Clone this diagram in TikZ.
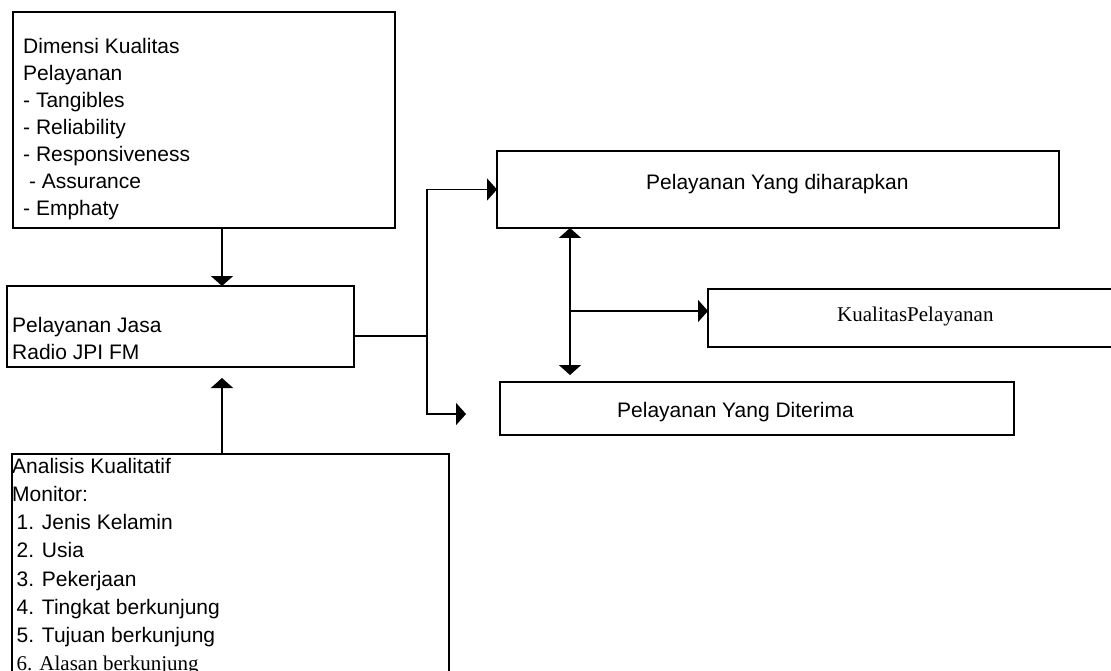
\documentclass[tikz,border=0pt]{standalone}
\usepackage{fontspec}
\newfontfamily\arialfont{Liberation Sans}
\newfontfamily\timesfont{Liberation Serif}
\usetikzlibrary{arrows.meta}

\begin{document}
\begin{tikzpicture}[x=1pt, y=-1pt,
    ujung/.tip={Triangle[length=10pt,width=22pt]},
    kotak/.style={draw, line width=2.2pt, inner sep=0pt, outer sep=0pt, anchor=north west},
    teks/.style={inner sep=0pt, align=left, font=\arialfont\fontsize{21}{27}\selectfont},
    panah/.style={line width=1.8pt, -ujung},
    panahdua/.style={line width=1.8pt, ujung-ujung}]
\useasboundingbox (0,0) rectangle (1111,671);
\clip (0,0) rectangle (1111,671);

% kotak kiri
\node[kotak, minimum width=382pt, minimum height=216pt] (dimensi) at (13,12) {};
\node[teks, anchor=north west] (dimensi-t) at (23,38) {Dimensi Kualitas\\Pelayanan\\- Tangibles\\- Reliability\\- Responsiveness\\\ - Assurance\\- Emphaty};

\node[kotak, minimum width=347pt, minimum height=81pt] (jasa) at (7,286) {};
\node[teks, anchor=north west] (jasa-t) at (12,317) {Pelayanan Jasa\\Radio JPI FM};

\node[kotak, minimum width=437pt, minimum height=260pt] (analisis) at (12,454) {};
\node[teks, anchor=north west, font=\arialfont\fontsize{21}{28.15}\selectfont] (analisis-t) at (12,458)
  {Analisis Kualitatif\\Monitor:\\
   \hspace{4.5pt}1. Jenis Kelamin\\\hspace{4.5pt}2. Usia\\\hspace{4.5pt}3. Pekerjaan\\
   \hspace{4.5pt}4. Tingkat berkunjung\\\hspace{4.5pt}5. Tujuan berkunjung\\
   \hspace{4.5pt}{\timesfont 6. Alasan berkunjung}};

% kotak kanan
\node[kotak, minimum width=562pt, minimum height=77pt] (harap) at (497,151) {};
\node[teks, anchor=base west] (harap-t) at (646,190) {Pelayanan Yang diharapkan};

\node[kotak, minimum width=450pt, minimum height=58pt] (kualitas) at (708,289) {};
\node[teks, anchor=base west, font=\timesfont\fontsize{21}{27}\selectfont] (kualitas-t) at (837,321) {KualitasPelayanan};

\node[kotak, minimum width=514pt, minimum height=53pt] (terima) at (500,382) {};
\node[teks, anchor=base west] (terima-t) at (617,417) {Pelayanan Yang Diterima};

% garis penghubung
\coordinate (garis) at (222,0);
\coordinate (ujung-jasa) at (222,378);
\coordinate (cabang) at (427,336);
\coordinate (ujung-terima) at (466,414);
\coordinate (tengah) at (570,311);
\coordinate (ujung-bawah) at (570,375);

\draw[panah] (dimensi.south -| garis) -- (jasa.north -| garis);
\draw[panah] (analisis.north -| garis) -- (ujung-jasa);
\draw[line width=1.8pt] (cabang -| jasa.east) -- (cabang);
\draw[panah] (cabang) |- (harap.west);
\draw[panah] (cabang) |- (ujung-terima);
\draw[panahdua] (harap.south -| tengah) -- (ujung-bawah);
\draw[panah] (tengah) -- (tengah -| kualitas.west);
\end{tikzpicture}
\end{document}
